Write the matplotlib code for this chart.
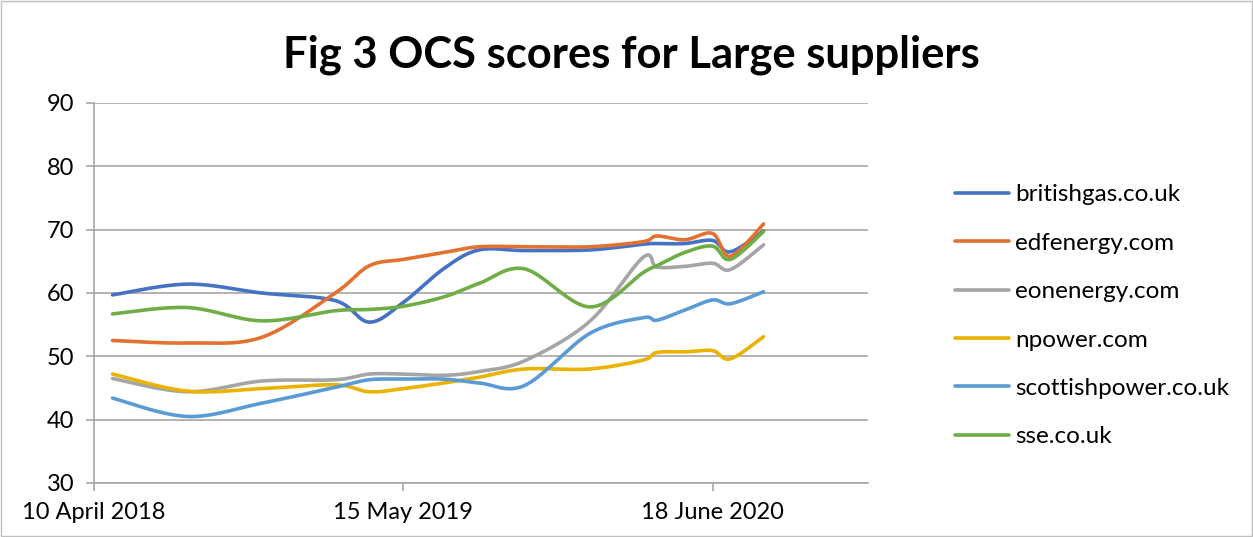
import numpy as np
import pandas as pd
import matplotlib
matplotlib.use('Agg')
import matplotlib.pyplot as plt
import matplotlib.dates as mdates

# survey dates and scores
dates = ['2018-05-04', '2018-08-09', '2018-11-13', '2019-02-16', '2019-04-01',
         '2019-05-15', '2019-07-07', '2019-08-21', '2019-10-19', '2020-01-11',
         '2020-03-20', '2020-04-07', '2020-05-13', '2020-06-18', '2020-07-11',
         '2020-08-23']

britishgas = [59.7, 61.4, 60.0, 58.8, 55.4, 58.5, 63.9, 66.8, 66.7, 66.8,
              67.7, 67.8, 67.8, 68.3, 66.5, 69.8]
edfenergy = [52.5, 52.1, 53.0, 60.0, 64.3, 65.3, 66.4, 67.3, 67.3, 67.3,
             68.1, 69.0, 68.4, 69.4, 65.8, 70.9]
eonenergy = [46.5, 44.4, 46.1, 46.3, 47.2, 47.2, 47.0, 47.6, 49.3, 55.5,
             65.6, 64.1, 64.2, 64.7, 63.7, 67.6]
npower = [47.2, 44.5, 44.9, 45.5, 44.4, 44.9, 45.8, 46.7, 48.0, 48.0,
          49.4, 50.6, 50.7, 50.9, 49.6, 53.1]
scottishpower = [43.4, 40.5, 42.6, 45.1, 46.3, 46.4, 46.4, 45.8, 45.4, 53.6,
                 56.1, 55.7, 57.3, 58.9, 58.3, 60.2]
sse = [56.7, 57.7, 55.6, 57.2, 57.4, 57.9, 59.4, 61.5, 63.8, 57.8,
       63.2, 64.3, 66.4, 67.4, 65.3, 69.7]

names = ['britishgas.co.uk', 'edfenergy.com', 'eonenergy.com', 'npower.com',
         'scottishpower.co.uk', 'sse.co.uk']
colors = ['#4472C4', '#E2722F', '#A5A5A5', '#EBB300', '#5B9BD5', '#70AD47']
tick_dates = ['2018-04-10', '2019-05-15', '2020-06-18']
tick_labels = ['10 April 2018', '15 May 2019', '18 June 2020']


def smooth(x, y, n=30):
    # Excel style smoothed line: bezier segments with 1/6 control offsets
    x = np.asarray(x, float)
    y = np.asarray(y, float)
    px = np.concatenate([[x[0]], x, [x[-1]]])
    py = np.concatenate([[y[0]], y, [y[-1]]])
    t = np.linspace(0, 1, n)[:, None]
    xs, ys = [], []
    for i in range(1, len(px) - 2):
        p0 = np.array([px[i], py[i]])
        p3 = np.array([px[i + 1], py[i + 1]])
        c1 = p0 + (p3 - np.array([px[i - 1], py[i - 1]])) / 6
        c2 = p3 - (np.array([px[i + 2], py[i + 2]]) - p0) / 6
        pts = ((1 - t) ** 3) * p0 + 3 * ((1 - t) ** 2) * t * c1 \
            + 3 * (1 - t) * t ** 2 * c2 + t ** 3 * p3
        xs.append(pts[:, 0])
        ys.append(pts[:, 1])
    return np.concatenate(xs), np.concatenate(ys)


plt.rcParams['font.family'] = ['Lato', 'DejaVu Sans']

fig = plt.figure(figsize=(12.53, 5.37), dpi=100)
ax = fig.add_axes([0.075, 0.1006, 0.6177, 0.7076])

xnum = mdates.date2num(pd.to_datetime(dates))
series = [britishgas, edfenergy, eonenergy, npower, scottishpower, sse]
for vals, name, c in zip(series, names, colors):
    sx, sy = smooth(xnum, vals)
    ax.plot(sx, sy, color=c, lw=2.6, label=name, solid_capstyle='round')

ax.set_ylim(30, 90)
ax.set_yticks(range(30, 91, 10))
ax.set_xlim(mdates.date2num(pd.Timestamp('2018-04-10')),
            mdates.date2num(pd.Timestamp('2021-01-05')))
ax.set_xticks(mdates.date2num(pd.to_datetime(tick_dates)))
ax.set_xticklabels(tick_labels)

ax.grid(axis='y', color='#A6A6A6', lw=1.2)
ax.set_axisbelow(True)
for s in ['top', 'right']:
    ax.spines[s].set_visible(False)
for s in ['left', 'bottom']:
    ax.spines[s].set_color('#A6A6A6')
    ax.spines[s].set_linewidth(1.2)
ax.tick_params(axis='both', colors='#A6A6A6', labelcolor='black',
               labelsize=17, length=6, width=1.2)
ax.tick_params(axis='x', pad=8)
ax.tick_params(axis='y', pad=8)

fig.suptitle('Fig 3 OCS scores for Large suppliers', x=0.504, y=0.935,
             fontsize=31.3, fontweight='bold')

ax.legend(loc='center left', bbox_to_anchor=(0.745, 0.412),
          bbox_transform=fig.transFigure, frameon=False, fontsize=17.5,
          handlelength=2.2, handletextpad=0.25, labelspacing=1.13)

# chart area border
fig.patches.append(plt.Rectangle((0.001, 0.001), 0.998, 0.998,
                                 transform=fig.transFigure, fill=False,
                                 edgecolor='#BFBFBF', lw=1))

fig.savefig('out.png', dpi=100)
